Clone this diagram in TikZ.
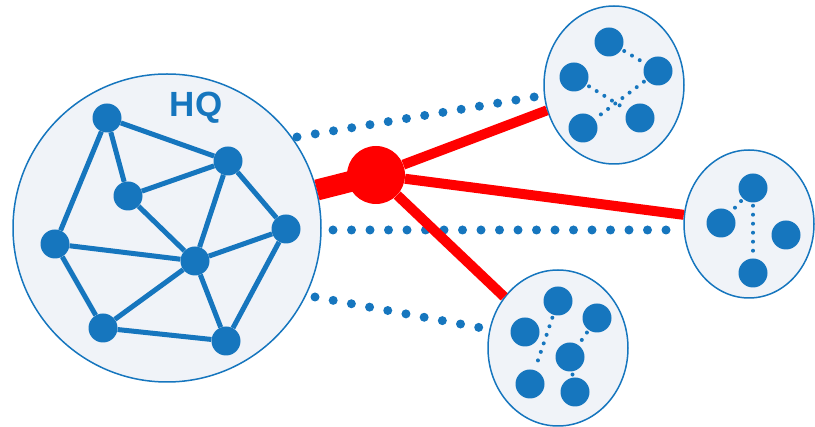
\documentclass[tikz,border=0pt]{standalone}
\usepackage{fontspec}
\setsansfont{Liberation Sans}
\usetikzlibrary{shapes.geometric}
\definecolor{netblue}{RGB}{22,118,190}
\definecolor{cellfill}{RGB}{240,243,248}
\definecolor{linkred}{RGB}{255,0,0}
\tikzset{
  site/.style={circle, draw=netblue, line width=1.5pt, fill=cellfill, inner sep=0pt},
  cell/.style={ellipse, draw=netblue, line width=1.5pt, fill=cellfill, inner sep=0pt},
  host/.style={circle, fill=netblue, minimum size=29pt, inner sep=0pt},
  hubnode/.style={circle, fill=linkred, minimum size=58pt, inner sep=0pt},
  mesh/.style={draw=netblue, line width=5pt},
  peer/.style={draw=netblue, line width=4pt, line cap=round, dash pattern=on 0pt off 9pt, shorten <=3pt, shorten >=3pt},
  wan/.style={draw=netblue, line width=9pt, line cap=round, dash pattern=on 0pt off 18.5pt},
  uplink/.style={draw=linkred, line width=10pt},
  trunk/.style={draw=linkred, line width=21pt},
}
\begin{document}
\begin{tikzpicture}[x=1pt, y=-1pt]
\useasboundingbox (0,0) rectangle (815,427);

% headquarters site
\node[site, minimum size=308pt] (hq) at (167,228) {};
\node[text=netblue, font=\sffamily\bfseries\fontsize{35}{40}\selectfont] (hqlabel) at (196,108) {HQ};

% long-haul dotted links
\coordinate (w1a) at (297,137);
\coordinate (w1b) at (540,96);
\coordinate (w2a) at (333,230);
\coordinate (w2b) at (676,230);
\coordinate (w3a) at (315,297);
\coordinate (w3b) at (482,328);
\draw[wan] (w1a) -- (w1b);
\draw[wan] (w2a) -- (w2b);
\draw[wan] (w3a) -- (w3b);

% branch sites
\node[cell, minimum width=140pt, minimum height=158pt] (ta) at (614,85) {};
\node[cell, minimum width=130pt, minimum height=148pt] (rb) at (749,224) {};
\node[cell, minimum width=140pt, minimum height=156pt] (bc) at (558,348) {};

% HQ hosts and mesh
\foreach \n/\p in {h1/{(107,118)}, h2/{(228,161)}, h3/{(128,196)}, h4/{(286,229)},
                   h5/{(55,244)}, h6/{(195,261)}, h7/{(103,328)}, h8/{(226,341)}}
  \node[host] (\n) at \p {};
\foreach \a/\b in {h1/h2, h1/h3, h1/h5, h3/h2, h3/h6, h2/h6, h2/h4, h4/h6,
                   h4/h8, h5/h6, h5/h7, h7/h6, h7/h8, h6/h8}
  \draw[mesh] (\a) -- (\b);

% branch hosts
\foreach \n/\p in {a1/{(609,42)}, a2/{(658,71)}, a3/{(574,77)}, a4/{(583,128)}, a5/{(640,118)},
                   b1/{(753,188)}, b2/{(721,223)}, b3/{(786,235)}, b4/{(753,273)},
                   c1/{(558,301)}, c2/{(597,318)}, c3/{(525,332)}, c4/{(570,357)},
                   c5/{(530,384)}, c6/{(575,392)}}
  \node[host] (\n) at \p {};
\foreach \a/\b in {a1/a2, a3/a5, a2/a4, b1/b2, b1/b4, c1/c5, c2/c4, c4/c6}
  \draw[peer] (\a) -- (\b);

% red backbone
\coordinate (hubc) at (376,175);
\draw[trunk] (hq) -- (hubc);
\node[hubnode] (hub) at (hubc) {};
\draw[uplink] (hub) -- (ta);
\draw[uplink] (hub) -- (rb.172);
\draw[uplink] (hub) -- (bc);
\end{tikzpicture}
\end{document}
